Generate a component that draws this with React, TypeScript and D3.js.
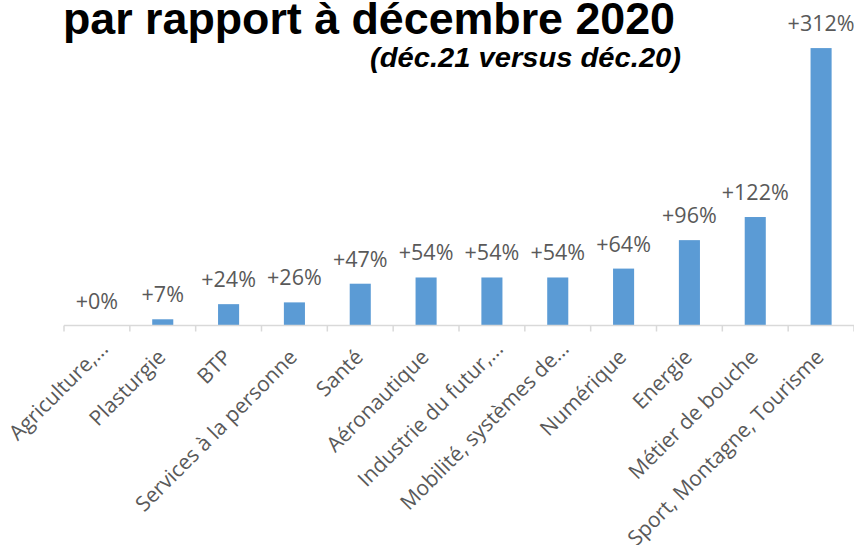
import * as d3 from "d3";

const categories = [
  "Agriculture,...",
  "Plasturgie",
  "BTP",
  "Services à la personne",
  "Santé",
  "Aéronautique",
  "Industrie du futur,...",
  "Mobilité, systèmes de...",
  "Numérique",
  "Energie",
  "Métier de bouche",
  "Sport, Montagne, Tourisme",
];
const values = [0, 7, 24, 26, 47, 54, 54, 54, 64, 96, 122, 312];

const title = "par rapport à décembre 2020";
const subtitle = "(déc.21 versus déc.20)";

const W = 854;
const H = 545;
const baseY = 325.5;

export default function App() {
  const x = d3.scaleBand<string>().domain(categories).range([64, 854]).padding(0);
  const y = d3.scaleLinear().domain([0, 350]).range([baseY, 14.3]);
  const barW = x.bandwidth() * 0.32;
  const ticks = categories.map((c) => x(c)!).concat([x.range()[1]]);
  const labelFont = "'Open Sans', sans-serif";

  return (
    <svg
      width={W}
      height={H}
      style={{ position: "absolute", left: 0, top: 0, background: "#fff" }}
    >
      <text
        x={63}
        y={34}
        textLength={612}
        lengthAdjust="spacingAndGlyphs"
        fontFamily="'Liberation Sans', Arial, sans-serif"
        fontWeight="bold"
        fontSize={44}
        fill="#000"
      >
        {title}
      </text>
      <text
        x={370}
        y={67}
        textLength={311}
        lengthAdjust="spacingAndGlyphs"
        fontFamily="'Liberation Sans', Arial, sans-serif"
        fontWeight="bold"
        fontStyle="italic"
        fontSize={27}
        fill="#000"
      >
        {subtitle}
      </text>

      {categories.map((c, i) => {
        const cx = x(c)! + x.bandwidth() / 2;
        // truncated labels sit a little further along the diagonal in the original
        const shift = c.endsWith("...") ? 12 : 0;
        return (
          <g key={c}>
            <rect
              x={cx - barW / 2}
              y={y(values[i])}
              width={barW}
              height={baseY - y(values[i])}
              fill="#5B9BD5"
            />
            <text
              x={cx}
              y={y(values[i]) - 17}
              textAnchor="middle"
              fontFamily={labelFont}
              fontSize={21.5}
              fill="#595959"
            >
              {"+" + values[i] + "%"}
            </text>
            <text
              transform={`translate(${cx + 4},${baseY + 33}) rotate(-45)`}
              dx={shift}
              textAnchor="end"
              fontFamily={labelFont}
              fontSize={21}
              fill="#595959"
            >
              {c}
            </text>
          </g>
        );
      })}

      <line x1={64} x2={854} y1={baseY} y2={baseY} stroke="#D9D9D9" strokeWidth={1.5} />
      {ticks.map((t, i) => (
        <line key={i} x1={t} x2={t} y1={baseY} y2={baseY + 6} stroke="#D9D9D9" strokeWidth={1.5} />
      ))}
    </svg>
  );
}
